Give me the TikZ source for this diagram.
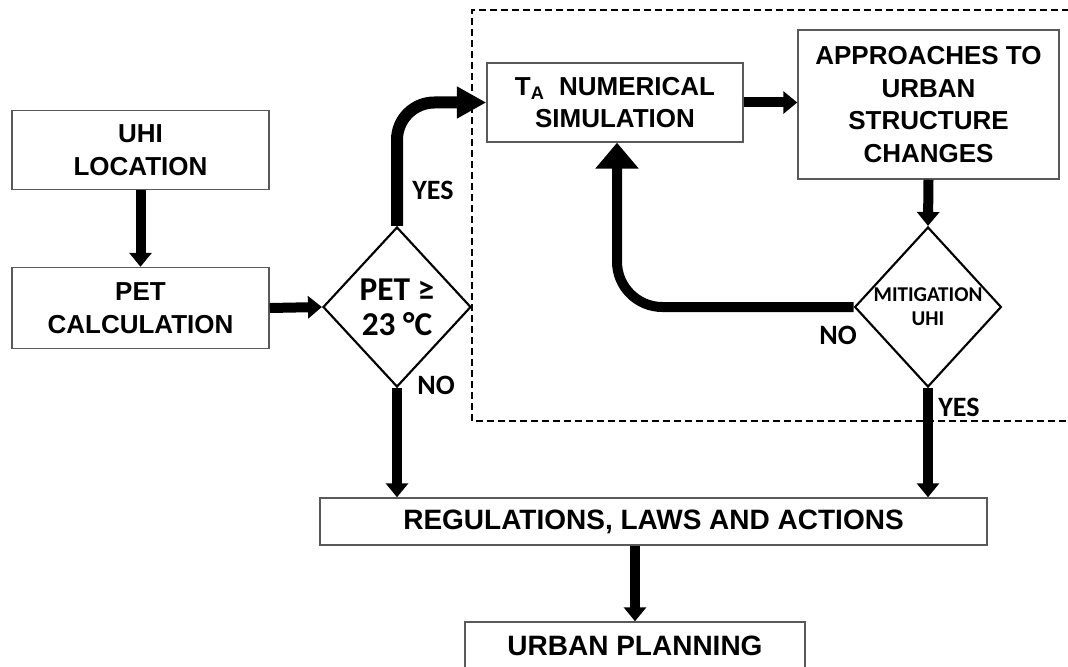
\documentclass[tikz,border=0pt]{standalone}
\usepackage{fontspec}
\setmainfont{Liberation Sans}
\newfontfamily\calfont{Carlito}
\usetikzlibrary{arrows.meta,shapes.geometric}
\begin{document}
\begin{tikzpicture}[x=0.75pt,y=-0.75pt,
  box/.style={draw=black!65,line width=1.1pt,rectangle,inner sep=0pt,align=center,
    font=\fontsize{19.5}{24.5}\selectfont\bfseries,fill=white},
  bigbox/.style={box,font=\fontsize{21}{24.5}\selectfont\bfseries},
  dia/.style={draw=black,line width=1.6pt,diamond,inner sep=0pt,align=center,
    font=\calfont\bfseries},
  lbl/.style={font=\calfont\bfseries\fontsize{21}{22}\selectfont,inner sep=0pt},
  flow/.style={line width=7.5pt,-{Triangle[length=10.5pt,width=16.5pt]}},
]
\useasboundingbox (0,0) rectangle (1068,667);
\clip (0,0) rectangle (1068,667);

% dashed region
\draw[line width=1.9pt,dash pattern=on 5.25pt off 3pt] (1080,10) -- (472,10) -- (472,421) -- (1080,421);

% boxes
\node[box,minimum width=192.75pt,minimum height=59.25pt] (uhi) at (140.5,150) {UHI\\LOCATION};
\node[box,minimum width=192.75pt,minimum height=60.75pt] (pet) at (140.5,308) {PET\\CALCULATION};
\node[dia,minimum width=111pt,minimum height=120pt,font=\calfont\bfseries\fontsize{25}{26.5}\selectfont] (d1) at (397,307) {PET ≥\\23 °C};
\node[box,minimum width=192pt,minimum height=59.25pt] (ta) at (615,102.5) {T\textsubscript{A}\ \ NUMERICAL\\SIMULATION};
\node[box,minimum width=195.75pt,minimum height=111.75pt] (app) at (928.5,104.5) {APPROACHES TO\\URBAN\\STRUCTURE\\CHANGES};
\node[dia,minimum width=105pt,minimum height=120pt,font=\calfont\bfseries\fontsize{15.8}{18}\selectfont] (d2) at (928,307) {MITIGATION\\UHI};
\node[bigbox,minimum width=500.25pt,minimum height=35.25pt] (reg) at (653.5,521.5) {REGULATIONS, LAWS AND ACTIONS};
\node[bigbox,minimum width=255pt,minimum height=35.25pt] (urb) at (635,645.5) {URBAN PLANNING};

% labels
\node[lbl] (yes1) at (433,190) {YES};
\node[lbl] (no1) at (436,385) {NO};
\node[lbl] (no2) at (838,335) {NO};
\node[lbl] (yes2) at (959,407) {YES};

% connectors
\draw[flow] (uhi.south) -- (pet.north);
\draw[flow] (pet.east) -- (d1.west);
\draw[line width=9pt,-{Triangle[length=22pt,width=22.5pt]},rounded corners=28pt] (d1.north) |- (ta.west);
\draw[flow] (ta.east) -- (ta.east -| app.west);
\draw[flow] (app.south) -- (d2.north);
\draw[line width=7.5pt,-{Triangle[length=19.5pt,width=31.5pt]},rounded corners=34pt] (d2.west) -| ([xshift=1.5pt]ta.south);
\draw[flow] (d1.south) -- (d1.south |- reg.north);
\draw[flow] (d2.south) -- (d2.south |- reg.north);
\draw[flow] (urb.north |- reg.south) -- (urb.north);
\end{tikzpicture}
\end{document}
